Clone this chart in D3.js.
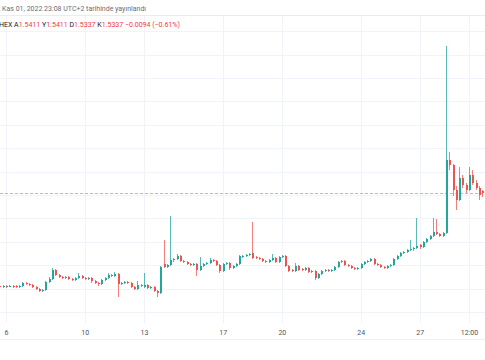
<!DOCTYPE html>
<html>
<head>
<meta charset="utf-8">
<script src="https://cdn.jsdelivr.net/npm/d3@7"></script>
<style>
  body { margin: 0; background: #fff; }
  svg { display: block; font-family: Roboto, "Trebuchet MS", sans-serif; }
</style>
</head>
<body>
<svg id="chart" width="485" height="360"></svg>
<script>
// 4h candles, first one at Oct 5 12:00 UTC
const candleStart = Date.UTC(2022, 9, 5, 12);
const candleStep = 4 * 3600 * 1000;

const opens = [
  1.4961,1.4965,1.4961,1.4965,1.4961,1.4965,1.4965,1.4961,1.4965,1.4977,
  1.4973,1.4969,1.4961,1.4953,1.4945,1.4949,1.4981,1.4993,1.5029,1.5009,
  1.5001,1.4997,1.5001,1.4993,1.4989,1.4997,1.5005,1.4997,1.4993,1.4997,
  1.4985,1.4977,1.4973,1.4989,1.4997,1.5009,1.5005,1.5013,1.4973,1.4977,
  1.4981,1.4977,1.4961,1.4953,1.4969,1.4961,1.4969,1.4957,1.4961,1.4945,
  1.4937,1.5053,1.5041,1.5049,1.5069,1.5073,1.5085,1.5065,1.5061,1.5053,
  1.5049,1.5053,1.5029,1.5045,1.5053,1.5057,1.5069,1.5065,1.5049,1.5025,
  1.5053,1.5057,1.5037,1.5045,1.5053,1.5081,1.5085,1.5089,1.5097,1.5081,
  1.5077,1.5073,1.5065,1.5061,1.5069,1.5077,1.5061,1.5081,1.5085,1.5045,
  1.5029,1.5025,1.5045,1.5033,1.5029,1.5037,1.5021,1.5025,1.4997,1.5013,
  1.5025,1.5029,1.5025,1.5029,1.5041,1.5061,1.5065,1.5049,1.5045,1.5037,
  1.5033,1.5037,1.5053,1.5061,1.5065,1.5073,1.5053,1.5049,1.5041,1.5037,
  1.5045,1.5049,1.5073,1.5085,1.5097,1.5101,1.5109,1.5113,1.5117,1.5129,
  1.5121,1.5141,1.5153,1.5165,1.5181,1.5173,1.5165,1.5177,1.5469,1.5449,
  1.5349,1.5309,1.5397,1.5369,1.5349,1.5409,1.5377,1.5357,1.5345
];
const highs = [
  1.4969,1.4969,1.4969,1.4969,1.4969,1.4969,1.4969,1.4969,1.4981,1.4981,
  1.4977,1.4973,1.4965,1.4957,1.4953,1.4985,1.5001,1.5037,1.5033,1.5013,
  1.5005,1.5005,1.5005,1.4997,1.5001,1.5017,1.5009,1.5001,1.5001,1.5001,
  1.4989,1.4981,1.4993,1.5001,1.5017,1.5013,1.5021,1.5017,1.4981,1.4985,
  1.4985,1.4981,1.4965,1.4985,1.4973,1.5017,1.4973,1.4965,1.4965,1.4949,
  1.5045,1.5149,1.5053,1.5245,1.5077,1.5093,1.5089,1.5069,1.5065,1.5057,
  1.5057,1.5057,1.5081,1.5057,1.5061,1.5077,1.5073,1.5069,1.5053,1.5057,
  1.5061,1.5061,1.5049,1.5057,1.5089,1.5089,1.5093,1.5097,1.5221,1.5085,
  1.5081,1.5077,1.5069,1.5073,1.5093,1.5081,1.5085,1.5089,1.5089,1.5049,
  1.5033,1.5057,1.5049,1.5037,1.5041,1.5041,1.5029,1.5029,1.5017,1.5029,
  1.5033,1.5033,1.5033,1.5045,1.5065,1.5069,1.5069,1.5053,1.5049,1.5041,
  1.5041,1.5057,1.5065,1.5069,1.5077,1.5077,1.5057,1.5053,1.5045,1.5049,
  1.5053,1.5077,1.5089,1.5101,1.5105,1.5113,1.5149,1.5121,1.5237,1.5133,
  1.5145,1.5157,1.5169,1.5237,1.5233,1.5177,1.5181,1.5925,1.5501,1.5453,
  1.5365,1.5441,1.5409,1.5377,1.5441,1.5429,1.5389,1.5365,1.5349
];
const lows = [
  1.4957,1.4957,1.4957,1.4957,1.4961,1.4957,1.4957,1.4957,1.4961,1.4969,
  1.4965,1.4957,1.4949,1.4941,1.4941,1.4945,1.4977,1.4989,1.5005,1.4997,
  1.4993,1.4993,1.4989,1.4985,1.4985,1.4993,1.4993,1.4989,1.4989,1.4977,
  1.4973,1.4965,1.4969,1.4985,1.4993,1.5001,1.5001,1.4921,1.4969,1.4973,
  1.4973,1.4957,1.4949,1.4949,1.4961,1.4957,1.4953,1.4953,1.4941,1.4921,
  1.4933,1.5037,1.5037,1.5045,1.5061,1.5069,1.5061,1.5057,1.5049,1.5045,
  1.5045,1.5005,1.5025,1.5041,1.5049,1.5053,1.5061,1.5045,1.5017,1.5021,
  1.5049,1.5029,1.5033,1.5041,1.5049,1.5077,1.5081,1.5085,1.5073,1.5073,
  1.5069,1.5061,1.5057,1.5057,1.5065,1.5057,1.5057,1.5077,1.5041,1.5021,
  1.5021,1.5021,1.5025,1.5025,1.5025,1.5017,1.5017,1.4989,1.4993,1.5009,
  1.5021,1.5021,1.5021,1.5025,1.5037,1.5057,1.5045,1.5041,1.5033,1.5029,
  1.5029,1.5033,1.5049,1.5057,1.5061,1.5049,1.5045,1.5037,1.5033,1.5033,
  1.5041,1.5045,1.5069,1.5081,1.5093,1.5097,1.5105,1.5105,1.5113,1.5113,
  1.5117,1.5137,1.5149,1.5161,1.5169,1.5161,1.5161,1.5173,1.5429,1.5325,
  1.5269,1.5305,1.5357,1.5337,1.5345,1.5369,1.5349,1.5309,1.5321
];
const closes = [
  1.4965,1.4961,1.4965,1.4961,1.4965,1.4961,1.4961,1.4965,1.4977,1.4973,
  1.4969,1.4961,1.4953,1.4945,1.4949,1.4981,1.4993,1.5029,1.5009,1.5001,
  1.4997,1.5001,1.4993,1.4989,1.4997,1.5005,1.4997,1.4993,1.4997,1.4985,
  1.4977,1.4973,1.4989,1.4997,1.5009,1.5005,1.5013,1.4973,1.4977,1.4981,
  1.4977,1.4961,1.4953,1.4969,1.4965,1.4969,1.4957,1.4961,1.4945,1.4937,
  1.5041,1.5041,1.5049,1.5069,1.5073,1.5085,1.5065,1.5061,1.5053,1.5049,
  1.5053,1.5029,1.5045,1.5053,1.5057,1.5069,1.5065,1.5049,1.5025,1.5053,
  1.5057,1.5037,1.5045,1.5053,1.5085,1.5085,1.5089,1.5093,1.5077,1.5077,
  1.5073,1.5065,1.5061,1.5069,1.5077,1.5061,1.5081,1.5085,1.5045,1.5025,
  1.5025,1.5045,1.5029,1.5029,1.5037,1.5021,1.5025,1.4997,1.5013,1.5025,
  1.5029,1.5025,1.5029,1.5041,1.5061,1.5065,1.5049,1.5045,1.5037,1.5033,
  1.5037,1.5053,1.5061,1.5065,1.5073,1.5053,1.5049,1.5041,1.5037,1.5045,
  1.5049,1.5073,1.5085,1.5097,1.5101,1.5109,1.5113,1.5117,1.5125,1.5121,
  1.5141,1.5153,1.5165,1.5181,1.5173,1.5165,1.5177,1.5469,1.5449,1.5349,
  1.5309,1.5397,1.5369,1.5349,1.5409,1.5377,1.5357,1.5329,1.5337
];

const gridPrices = [1.5985,1.5891,1.5798,1.5704,1.5610,1.5517,1.5423,1.5330,1.5236,1.5142,1.5049,1.4955,1.4861];
const tickDates = ["2022-10-06T00:00Z","2022-10-10T00:00Z","2022-10-13T00:00Z","2022-10-17T00:00Z",
                   "2022-10-20T00:00Z","2022-10-24T00:00Z","2022-10-27T00:00Z","2022-10-29T12:00Z"].map(d=>new Date(d));
const tickLabels = ["6","10","13","17","20","24","27","12:00"];

const titleText = ", Kas 01, 2022 23:08 UTC+2 tarihinde yayınlandı";
const legendParts = [["HEX ","#131722"],["A","#131722"],["1.5411 ","#f23645"],["Y","#131722"],["1.5411 ","#f23645"],
                     ["D","#131722"],["1.5337 ","#f23645"],["K","#131722"],["1.5337 ","#f23645"],["\u22120.0094 (\u22120.61%)","#f23645"]];

const W = 485, H = 360, paneTop = 16, paneBottom = 323;
const upColor = "#26a69a", downColor = "#ef5350";

const data = closes.map((c,i)=>({t:new Date(candleStart + i*candleStep), o:opens[i], h:highs[i], l:lows[i], c:c}));

const svg = d3.select('#chart');
const x = d3.scaleUtc()
    .domain([new Date(Date.UTC(2022,9,6)), new Date(Date.UTC(2022,9,29,12))])
    .range([6, 469]);
const y = d3.scaleLinear().domain([1.4669, 1.6109]).range([H, 0]);

// grid
const grid = svg.append('g').attr('stroke','#f0f3fa').attr('stroke-width',1);
grid.selectAll('.vg').data(tickDates).enter().append('line')
    .attr('x1',d=>Math.round(x(d))+0.5).attr('x2',d=>Math.round(x(d))+0.5)
    .attr('y1',paneTop).attr('y2',paneBottom);
grid.selectAll('.hg').data(gridPrices).enter().append('line')
    .attr('x1',0).attr('x2',W)
    .attr('y1',d=>Math.round(y(d))+0.5).attr('y2',d=>Math.round(y(d))+0.5);

// header separator
svg.append('line').attr('x1',0).attr('x2',W).attr('y1',15.5).attr('y2',15.5).attr('stroke','#e9ebf0');

// last price line (behind candles)
const last = closes[closes.length-1];
svg.append('line').attr('x1',0).attr('x2',W)
    .attr('y1',Math.round(y(last))+0.5).attr('y2',Math.round(y(last))+0.5)
    .attr('stroke','#f5a3aa').attr('stroke-dasharray','3,2');

// candles
const pane = svg.append('g').attr('clip-path','url(#clip)');
svg.append('clipPath').attr('id','clip').append('rect')
    .attr('x',0).attr('y',paneTop+1).attr('width',W).attr('height',paneBottom-paneTop);
const candle = pane.selectAll('.candle').data(data).enter().append('g')
    .attr('fill',d=>d.c>=d.o?upColor:downColor)
    .attr('stroke',d=>d.c>=d.o?upColor:downColor);
candle.append('line')
    .attr('x1',d=>Math.round(x(d.t))+0.5).attr('x2',d=>Math.round(x(d.t))+0.5)
    .attr('y1',d=>y(d.h)).attr('y2',d=>y(d.l))
    .attr('stroke-width',1).attr('stroke-opacity',0.75);
candle.append('rect')
    .attr('stroke','none')
    .attr('x',d=>Math.round(x(d.t)))
    .attr('width',2)
    .attr('y',d=>y(Math.max(d.o,d.c)))
    .attr('height',d=>Math.max(1,Math.abs(y(d.o)-y(d.c))));

// time axis
const axis = svg.append('g').attr('transform',`translate(0,${paneBottom+4})`)
    .call(d3.axisBottom(x).tickValues(tickDates).tickFormat((d,i)=>tickLabels[i]).tickSize(0));
axis.select('.domain').remove();
axis.selectAll('text').attr('fill','#50535e').attr('font-size','7px').attr('font-family','Roboto, sans-serif');
svg.append('line').attr('x1',0).attr('x2',W).attr('y1',339.5).attr('y2',339.5).attr('stroke','#eef0f3');

// header texts
svg.append('text').attr('x',-1).attr('y',11).attr('font-size','7px').attr('fill','#6a6d78').text(titleText);
const lg = svg.append('text').attr('x',-1).attr('y',27).attr('font-size','7px');
legendParts.forEach(p=>lg.append('tspan').attr('fill',p[1]).text(p[0]));
</script>
</body>
</html>
